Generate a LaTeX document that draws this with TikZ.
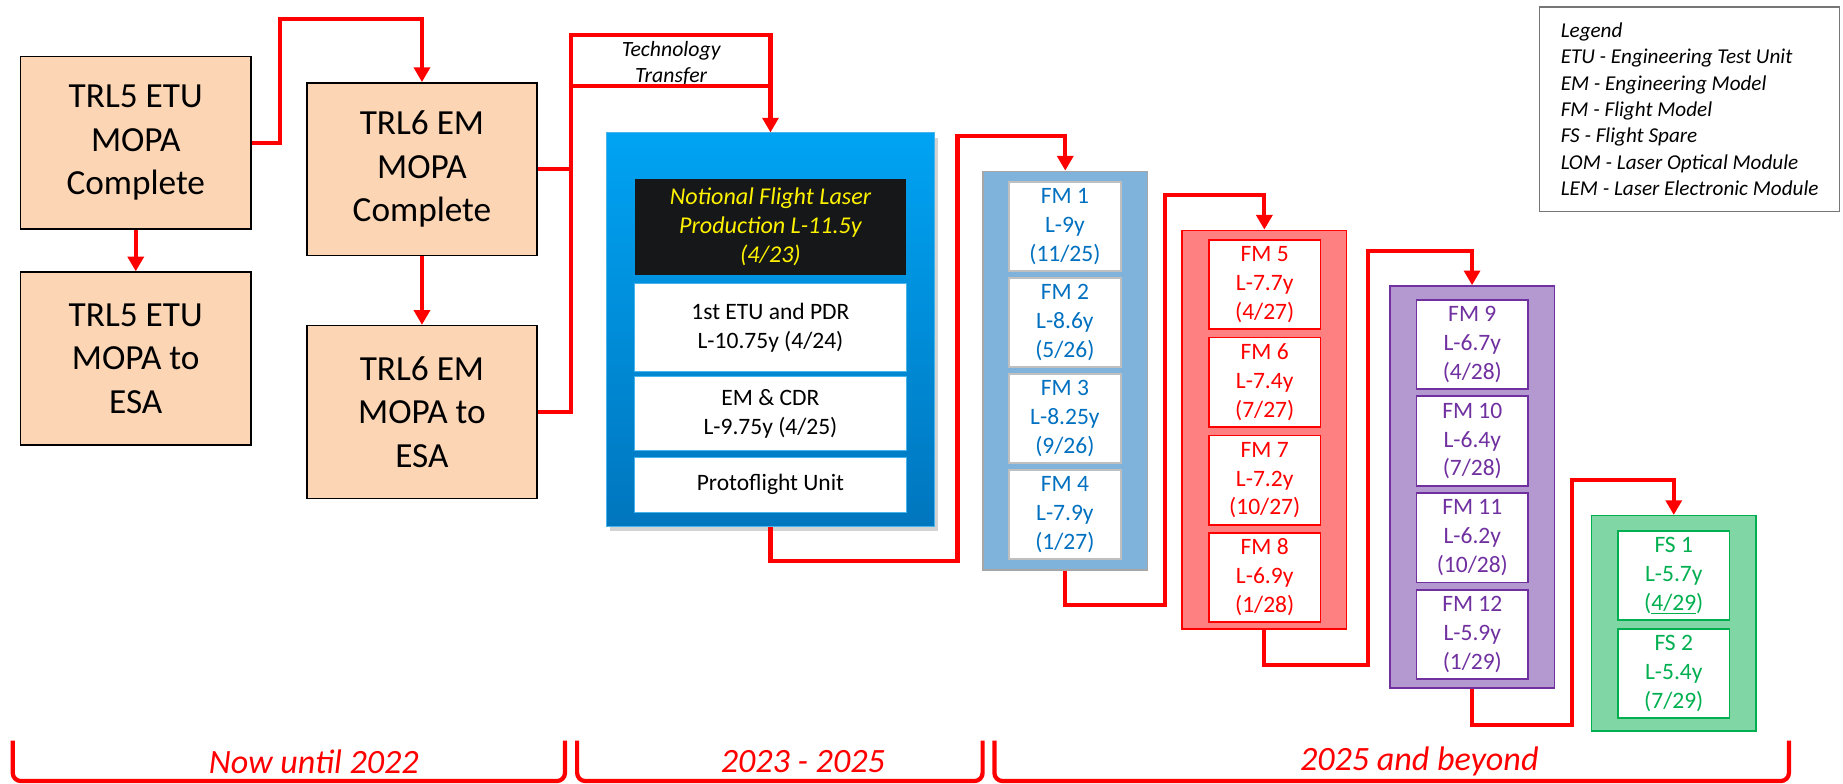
\documentclass[tikz,border=0pt]{standalone}
\usepackage{fontspec}
\setmainfont{Carlito}
\usetikzlibrary{arrows.meta,shadows}
\definecolor{peach}{RGB}{252,213,181}
\definecolor{lineRed}{RGB}{255,0,0}
\definecolor{fmBlue}{RGB}{0,112,192}
\definecolor{fmBlueFill}{RGB}{127,179,220}
\definecolor{fmGrayRim}{RGB}{166,166,166}
\definecolor{fmItemRim}{RGB}{191,191,191}
\definecolor{fmRedFill}{RGB}{255,128,128}
\definecolor{fmPurple}{RGB}{112,48,160}
\definecolor{fmPurpleFill}{RGB}{180,153,208}
\definecolor{fsGreen}{RGB}{0,176,80}
\definecolor{fsGreenFill}{RGB}{128,215,165}
\definecolor{lpuTop}{RGB}{0,163,243}
\definecolor{lpuBottom}{RGB}{0,118,190}
\definecolor{lpuBlack}{RGB}{21,23,25}
\definecolor{lpuRim}{RGB}{70,180,235}
\definecolor{legendRim}{RGB}{118,118,118}

\begin{document}
\begin{tikzpicture}[x=1pt,y=-1pt]
\tikzset{
  trlbox/.style={rectangle,draw=black,line width=1.3pt,fill=peach,minimum width=196pt,minimum height=147pt,inner sep=0pt,align=center,font=\fontsize{30}{37}\selectfont},
  groupbox/.style={rectangle,line width=1.3pt,minimum width=140pt,inner sep=0pt},
  itembox/.style={rectangle,fill=white,line width=1.5pt,minimum width=95pt,minimum height=76pt,inner sep=0pt,align=center,font=\fontsize{20}{24.6}\selectfont},
  lpubox/.style={rectangle,fill=white,draw=lpuRim,line width=0.8pt,minimum width=231pt,inner sep=0pt,align=center,font=\fontsize{20}{24.6}\selectfont},
  directed/.style={-{Triangle[length=12.5pt,width=13.5pt]},draw=lineRed,line width=3.6pt},
  undirected/.style={draw=lineRed,line width=3.6pt},
  period/.style={draw=lineRed,line width=3.6pt,rounded corners=7pt},
  periodlabel/.style={text=lineRed,font=\fontsize{29}{35}\selectfont\itshape}
}
\useasboundingbox (0,0) rectangle (1568,667);

% MOPA boxes
\node[trlbox] (n_etu5c) at (115.5,121.5) {TRL5 ETU\\MOPA\\Complete};
\node[trlbox] (n_etu5e) at (115.5,305.0) {TRL5 ETU\\MOPA to\\ESA};
\node[trlbox] (n_em6c) at (359.0,144.0) {TRL6 EM\\MOPA\\Complete};
\node[trlbox] (n_em6e) at (359.0,350.5) {TRL6 EM\\MOPA to\\ESA};

% flight laser production
\node[rectangle,draw=lpuRim,line width=0.6pt,top color=lpuTop,bottom color=lpuBottom,minimum width=279.5pt,minimum height=335pt,
  drop shadow={opacity=0.35,shadow xshift=3pt,shadow yshift=-4pt}] (n_lpu) at (655.5,280.5) {};
\node[rectangle,fill=lpuBlack,minimum width=231pt,minimum height=82pt,inner sep=0pt,align=center,text=yellow,
  font=\fontsize{20.5}{24.4}\selectfont\itshape] (n_lpu0) at (655.5,193.0) {Notional Flight Laser\\Production L-11.5y\\(4/23)};
\node[lpubox,minimum height=74.5pt] (n_lpu1) at (655.5,278.8) {1st ETU and PDR\\L-10.75y (4/24)};
\node[lpubox,minimum height=63pt] (n_lpu2) at (655.5,352.0) {EM \& CDR\\L-9.75y (4/25)};
\node[lpubox,minimum height=47pt] (n_lpu3) at (655.5,412.5) {Protoflight Unit};
\node[align=center,font=\fontsize{18.5}{22.2}\selectfont\itshape] (n_tt) at (571.0,53.6) {Technology\\Transfer};

% flight models 1-4
\node[groupbox,draw=fmGrayRim,fill=fmBlueFill,minimum height=339pt] (n_grpA) at (906.3,315.3) {};
\node[itembox,draw=fmItemRim,text=fmBlue] (n_fm1) at (906.0,192.7) {FM 1\\L-9y\\(11/25)};
\node[itembox,draw=fmItemRim,text=fmBlue] (n_fm2) at (906.0,274.4) {FM 2\\L-8.6y\\(5/26)};
\node[itembox,draw=fmItemRim,text=fmBlue] (n_fm3) at (906.0,356.0) {FM 3\\L-8.25y\\(9/26)};
\node[itembox,draw=fmItemRim,text=fmBlue] (n_fm4) at (906.0,437.6) {FM 4\\L-7.9y\\(1/27)};

% flight models 5-8
\node[groupbox,draw=lineRed,fill=fmRedFill,minimum height=339pt] (n_grpB) at (1075.7,365.5) {};
\node[itembox,draw=lineRed,text=lineRed] (n_fm5) at (1076.0,241.9) {FM 5\\L-7.7y\\(4/27)};
\node[itembox,draw=lineRed,text=lineRed] (n_fm6) at (1076.0,325.2) {FM 6\\L-7.4y\\(7/27)};
\node[itembox,draw=lineRed,text=lineRed] (n_fm7) at (1076.0,408.5) {FM 7\\L-7.2y\\(10/27)};
\node[itembox,draw=lineRed,text=lineRed] (n_fm8) at (1076.0,491.3) {FM 8\\L-6.9y\\(1/28)};

% flight models 9-12
\node[groupbox,draw=fmPurple,fill=fmPurpleFill,minimum height=342pt] (n_grpC) at (1252.4,414.3) {};
\node[itembox,draw=fmPurple,text=fmPurple] (n_fm9) at (1252.6,293.0) {FM 9\\L-6.7y\\(4/28)};
\node[itembox,draw=fmPurple,text=fmPurple] (n_fm10) at (1252.6,375.2) {FM 10\\L-6.4y\\(7/28)};
\node[itembox,draw=fmPurple,text=fmPurple] (n_fm11) at (1252.6,457.5) {FM 11\\L-6.2y\\(10/28)};
\node[itembox,draw=fmPurple,text=fmPurple] (n_fm12) at (1252.6,539.7) {FM 12\\L-5.9y\\(1/29)};

% flight spares
\node[groupbox,draw=fsGreen,fill=fsGreenFill,minimum height=183.3pt] (n_grpD) at (1424.0,530.4) {};
\node[itembox,draw=fsGreen,text=fsGreen] (n_fs1) at (1424.0,489.6) {FS 1\\L-5.7y\\(\underline{4/29})};
\node[itembox,draw=fsGreen,text=fsGreen] (n_fs2) at (1424.0,573.0) {FS 2\\L-5.4y\\(7/29)};

% legend
\node[rectangle,draw=legendRim,line width=1.2pt,minimum width=255pt,minimum height=174pt,inner xsep=0pt,inner ysep=0pt,
  align=left,font=\fontsize{18}{22.4}\selectfont\itshape] (n_legend) at (1437.5,93.0)
  {Legend\\ETU - Engineering Test Unit\\EM - Engineering Model\\FM - Flight Model\\FS - Flight Spare\\LOM - Laser Optical Module\\LEM - Laser Electronic Module};

% connectors
\coordinate (c_ttL) at (486.0,73.0);
\coordinate (c_ttR) at (655.5,73.0);
\draw[directed] (n_etu5c) -- (n_etu5e);
\draw[directed] (n_em6c) -- (n_em6e);
\draw[directed] (n_etu5c) -- (238.0,121.5) -- (238.0,16.0) -- (359.0,16.0) -- (n_em6c);
\draw[undirected] (n_em6c) -- (486.0,144.0);
\draw[directed] (n_em6e) -- (486.0,350.5) -- (486.0,30.0) -- (655.5,30.0) -- (n_lpu);
\draw[undirected] (c_ttL) -- (c_ttR);
\draw[directed] (n_lpu) -- (655.5,477.0) -- (814.7,477.0) -- (814.7,115.5) -- (906.3,115.5) -- (n_grpA);
\draw[directed] (n_grpA) -- (906.3,514.7) -- (991.0,514.7) -- (991.0,166.0) -- (1075.7,166.0) -- (n_grpB);
\draw[directed] (n_grpB) -- (1075.7,566.0) -- (1163.8,566.0) -- (1163.8,213.3) -- (1252.4,213.3) -- (n_grpC);
\draw[directed] (n_grpC) -- (1252.4,616.5) -- (1337.5,616.5) -- (1337.5,408.4) -- (1424.0,408.4) -- (n_grpD);

% periods
\draw[period] (10.8,630.0) -- (10.8,664.5) -- (480.7,664.5) -- (480.7,630.0);
\draw[period] (491.0,630.0) -- (491.0,664.5) -- (836.0,664.5) -- (836.0,630.0);
\draw[period] (846.0,630.0) -- (846.0,664.5) -- (1522.0,664.5) -- (1522.0,630.0);
\node[periodlabel] (n_now) at (267.0,648.0) {Now until 2022};
\node[periodlabel] (n_mid) at (683.0,648.0) {2023 - 2025};
\node[periodlabel] (n_late) at (1207.5,648.0) {2025 and beyond};
\end{tikzpicture}
\end{document}
